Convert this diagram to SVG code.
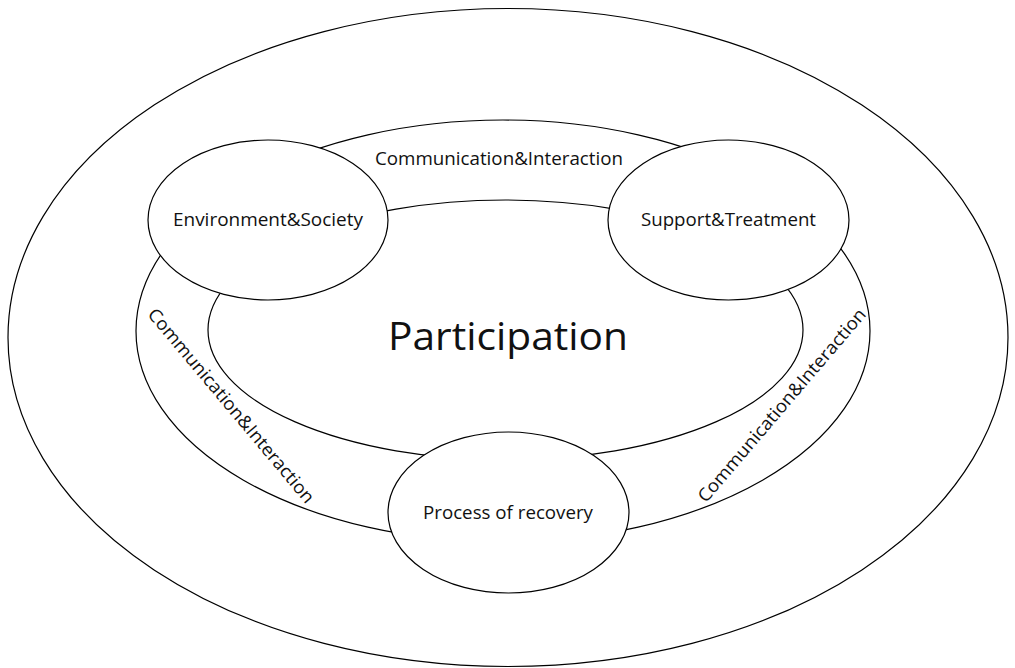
<svg xmlns="http://www.w3.org/2000/svg" width="1015" height="668" viewBox="0 0 1015 668">
<style>
.sh{fill:#fff;stroke:#000;stroke-width:1.2}
.t{font-family:"Open Sans","DejaVu Sans",sans-serif;font-size:18px;fill:#111;text-anchor:middle}
.big{font-family:"Open Sans","DejaVu Sans",sans-serif;font-size:39px;fill:#111;text-anchor:middle}
</style>
<rect width="1015" height="668" fill="#fff"/>
<g id="outer"><ellipse class="sh" cx="508" cy="337.5" rx="500" ry="329"/></g>
<g id="ring"><ellipse class="sh" cx="503" cy="331" rx="367" ry="211"/></g>
<g id="participation">
<ellipse class="sh" cx="505.5" cy="330" rx="297.5" ry="130"/>
<text class="big" x="508" y="350" textLength="240" lengthAdjust="spacingAndGlyphs">Participation</text>
</g>
<g id="connectors">
<text class="t" x="499" y="164.5" textLength="248" lengthAdjust="spacingAndGlyphs">Communication&amp;Interaction</text>
<text class="t" transform="translate(231.5,405.5) rotate(50)" dy="6.5" textLength="248" lengthAdjust="spacingAndGlyphs">Communication&amp;Interaction</text>
<text class="t" transform="translate(781.5,405) rotate(-49.5)" dy="6.5" textLength="248" lengthAdjust="spacingAndGlyphs">Communication&amp;Interaction</text>
</g>
<g id="env">
<ellipse class="sh" cx="268" cy="220" rx="120" ry="80"/>
<text class="t" x="268" y="226" textLength="190" lengthAdjust="spacingAndGlyphs">Environment&amp;Society</text>
</g>
<g id="support">
<ellipse class="sh" cx="728.5" cy="220" rx="120.5" ry="80"/>
<text class="t" x="728.5" y="226" textLength="175" lengthAdjust="spacingAndGlyphs">Support&amp;Treatment</text>
</g>
<g id="recovery">
<ellipse class="sh" cx="508.5" cy="512.5" rx="120.5" ry="80.5"/>
<text class="t" x="508" y="519" textLength="170" lengthAdjust="spacingAndGlyphs">Process of recovery</text>
</g>
</svg>
